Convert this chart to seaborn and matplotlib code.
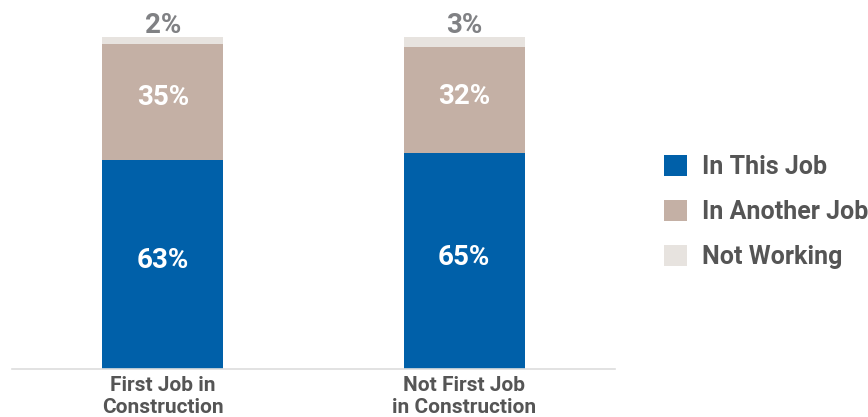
import matplotlib
matplotlib.use("Agg")
import matplotlib.pyplot as plt
from matplotlib.patches import Patch
import numpy as np
import pandas as pd
import seaborn as sns

categories = ["First Job in\nConstruction", "Not First Job\nin Construction"]
in_this_job = [63, 65]
in_another_job = [35, 32]
not_working = [2, 3]
series_names = ["In This Job", "In Another Job", "Not Working"]
colors = ["#0060A9", "#C4B0A5", "#E7E3DF"]

sns.set_theme(style="white")
plt.rcParams["font.family"] = ["Roboto", "DejaVu Sans"]

fig = plt.figure(figsize=(8.68, 4.17), dpi=100)
W, H = 868, 417
ax = fig.add_axes([12 / W, (H - 369) / H, (615 - 12) / W, (369 - 37) / H])

df = pd.DataFrame({
    "category": categories,
    "this": in_this_job,
    "another": in_another_job,
    "notw": not_working,
})
df["top_another"] = df["this"] + df["another"]
df["top_notw"] = df["top_another"] + df["notw"]

# stacked bars: draw the cumulative totals back to front
for col, color in zip(["top_notw", "top_another", "this"], colors[::-1]):
    sns.barplot(data=df, x="category", y=col, color=color, width=0.4,
                saturation=1, ax=ax, linewidth=0)

ax.set_xlim(-0.5, 1.5)
ax.set_ylim(0, 100)

# value labels
val_fs = 20
lift = 1.2
for i, row in df.iterrows():
    ax.text(i, row["this"] / 2 + lift, f"{row['this']}%", ha="center",
            va="center", color="white", fontsize=val_fs, fontweight="bold")
    ax.text(i, row["this"] + row["another"] / 2 + lift, f"{row['another']}%",
            ha="center", va="center", color="white", fontsize=val_fs,
            fontweight="bold")
    ax.text(i, row["top_notw"] + 1.2, f"{row['notw']}%", ha="center",
            va="baseline", color="#808184", fontsize=val_fs,
            fontweight="bold", clip_on=False)

ax.set_xlabel("")
ax.set_ylabel("")
ax.set_yticks([])
ax.tick_params(axis="x", length=0, pad=5, labelsize=15, labelcolor="#555555")
for lbl in ax.get_xticklabels():
    lbl.set_fontweight("bold")
    lbl.set_linespacing(1.2)
for s in ["top", "right", "left"]:
    ax.spines[s].set_visible(False)
ax.spines["bottom"].set_color("#DDDDDD")
ax.spines["bottom"].set_linewidth(1.2)

handles = [Patch(facecolor=c, edgecolor="none", label=n)
           for c, n in zip(colors, series_names)]
fig.legend(handles=handles, loc="center left",
           bbox_to_anchor=(664 / W, (H - 212) / H), frameon=False,
           borderaxespad=0, borderpad=0,
           handlelength=0.92, handleheight=0.92,
           handletextpad=0.6, labelspacing=0.85,
           prop={"weight": "bold", "size": 18},
           labelcolor="#555555")

fig.savefig("out.png", dpi=100)
